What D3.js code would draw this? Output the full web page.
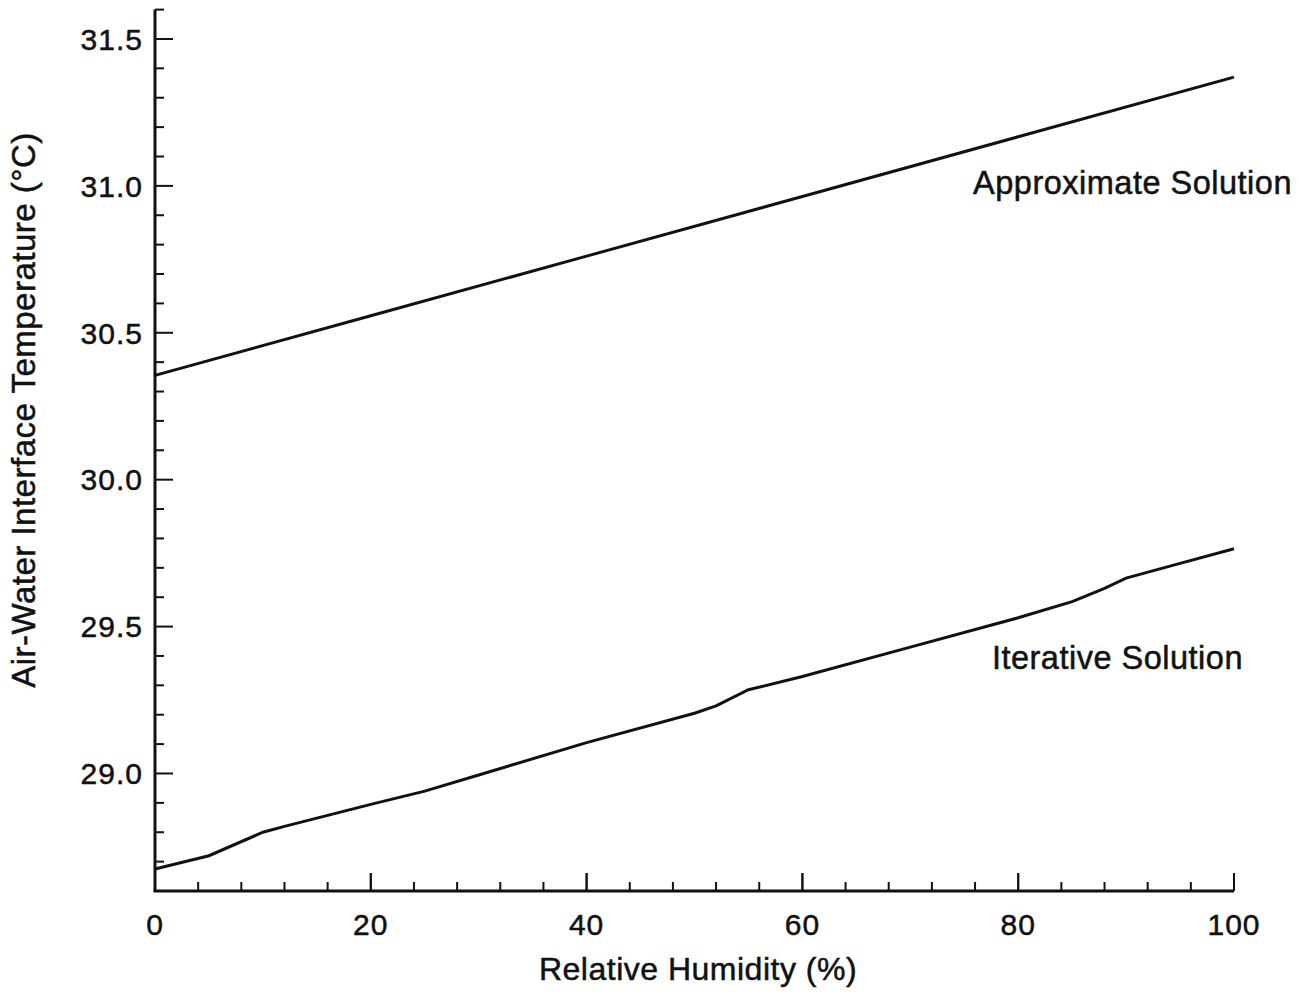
<!DOCTYPE html>
<html>
<head>
<meta charset="utf-8">
<script src="https://cdn.jsdelivr.net/npm/d3@7"></script>
<style>
  html, body { margin: 0; padding: 0; background: #fff; }
  svg { display: block; }
  text { font-family: "Liberation Sans", Arial, Helvetica, sans-serif; fill: #111; stroke: #111; stroke-width: 0.5px; }
</style>
</head>
<body>
<svg id="chart" width="1300" height="994"></svg>
<script>
// Relative humidity (%) and interface temperature (°C) for both solutions
const approxRH   = [0, 20, 40, 60, 80, 100];
const approxTemp = [30.355, 30.558, 30.761, 30.964, 31.167, 31.37];

const iterRH   = [0, 5, 10, 12, 20, 25, 30, 40, 50, 52, 55, 60, 70, 80, 85, 88, 90, 95, 100];
const iterTemp = [28.675, 28.72, 28.80, 28.82, 28.895, 28.94, 28.995, 29.105, 29.205, 29.23, 29.285,
                  29.33, 29.43, 29.53, 29.585, 29.63, 29.665, 29.715, 29.765];

const xMajorTicks = [0, 20, 40, 60, 80, 100];
const yMajorTicks = [29.0, 29.5, 30.0, 30.5, 31.0, 31.5];

const seriesLabels = ["Approximate Solution", "Iterative Solution"];
const xTitle = "Relative Humidity (%)";
const yTitle = "Air-Water Interface Temperature (\u00B0C)";

const svg = d3.select("#chart");

const x = d3.scaleLinear().domain([0, 100]).range([155, 1234]);
const y = d3.scaleLinear().domain([28.6, 31.6]).range([891, 9.6]);

const ink = "#111";

// Axis lines
svg.append("line").attr("x1", x(0)).attr("x2", x(0)).attr("y1", y(31.6)).attr("y2", y(28.6))
  .attr("stroke", ink).attr("stroke-width", 3);
svg.append("line").attr("x1", x(0) - 1.5).attr("x2", x(100)).attr("y1", y(28.6)).attr("y2", y(28.6))
  .attr("stroke", ink).attr("stroke-width", 3);

// Y ticks: minor every 0.1, major every 0.5 (pointing inward)
const yMinor = d3.range(28.7, 31.65, 0.1).map(v => +v.toFixed(1));
svg.append("g").selectAll("line").data(yMinor).join("line")
  .attr("x1", x(0)).attr("y1", d => y(d)).attr("y2", d => y(d))
  .attr("x2", d => yMajorTicks.some(t => Math.abs(t - d) < 1e-6) ? x(0) + 18 : x(0) + 9)
  .attr("stroke", ink).attr("stroke-width", 2);

// X ticks: minor every 4, major every 20 (pointing inward)
const xMinor = d3.range(4, 101, 4).concat(xMajorTicks.filter(d => d > 0));
svg.append("g").selectAll("line").data(xMinor).join("line")
  .attr("x1", d => x(d)).attr("x2", d => x(d)).attr("y1", y(28.6))
  .attr("y2", d => xMajorTicks.includes(d) ? y(28.6) - 18 : y(28.6) - 9)
  .attr("stroke", ink).attr("stroke-width", 2);

// Tick labels
svg.append("g").selectAll("text").data(yMajorTicks).join("text")
  .attr("x", 143).attr("y", d => y(d)).attr("dy", "0.36em")
  .attr("text-anchor", "end").attr("font-size", 30).attr("letter-spacing", 1)
  .text(d => d.toFixed(1));

svg.append("g").selectAll("text").data(xMajorTicks).join("text")
  .attr("x", d => x(d)).attr("y", 935)
  .attr("text-anchor", "middle").attr("font-size", 30).attr("letter-spacing", 1)
  .text(d => d);

// Axis titles
svg.append("text").attr("x", 698).attr("y", 980).attr("text-anchor", "middle")
  .attr("font-size", 32).attr("letter-spacing", 0.5).text(xTitle);
svg.append("text").attr("transform", "translate(35,410) rotate(-90)")
  .attr("text-anchor", "middle").attr("font-size", 33).attr("letter-spacing", 0.5).text(yTitle);

// Series lines
const line = d3.line().x(d => x(d[0])).y(d => y(d[1]));
svg.append("path").datum(d3.zip(approxRH, approxTemp))
  .attr("d", line).attr("fill", "none").attr("stroke", ink).attr("stroke-width", 3);
svg.append("path").datum(d3.zip(iterRH, iterTemp))
  .attr("d", line).attr("fill", "none").attr("stroke", ink).attr("stroke-width", 3);

// Series labels
svg.append("text").attr("x", 1292).attr("y", 194).attr("text-anchor", "end")
  .attr("font-size", 32.5).attr("letter-spacing", 0.5).text(seriesLabels[0]);
svg.append("text").attr("x", 1243).attr("y", 669).attr("text-anchor", "end")
  .attr("font-size", 32.5).attr("letter-spacing", 0.5).text(seriesLabels[1]);
</script>
</body>
</html>
